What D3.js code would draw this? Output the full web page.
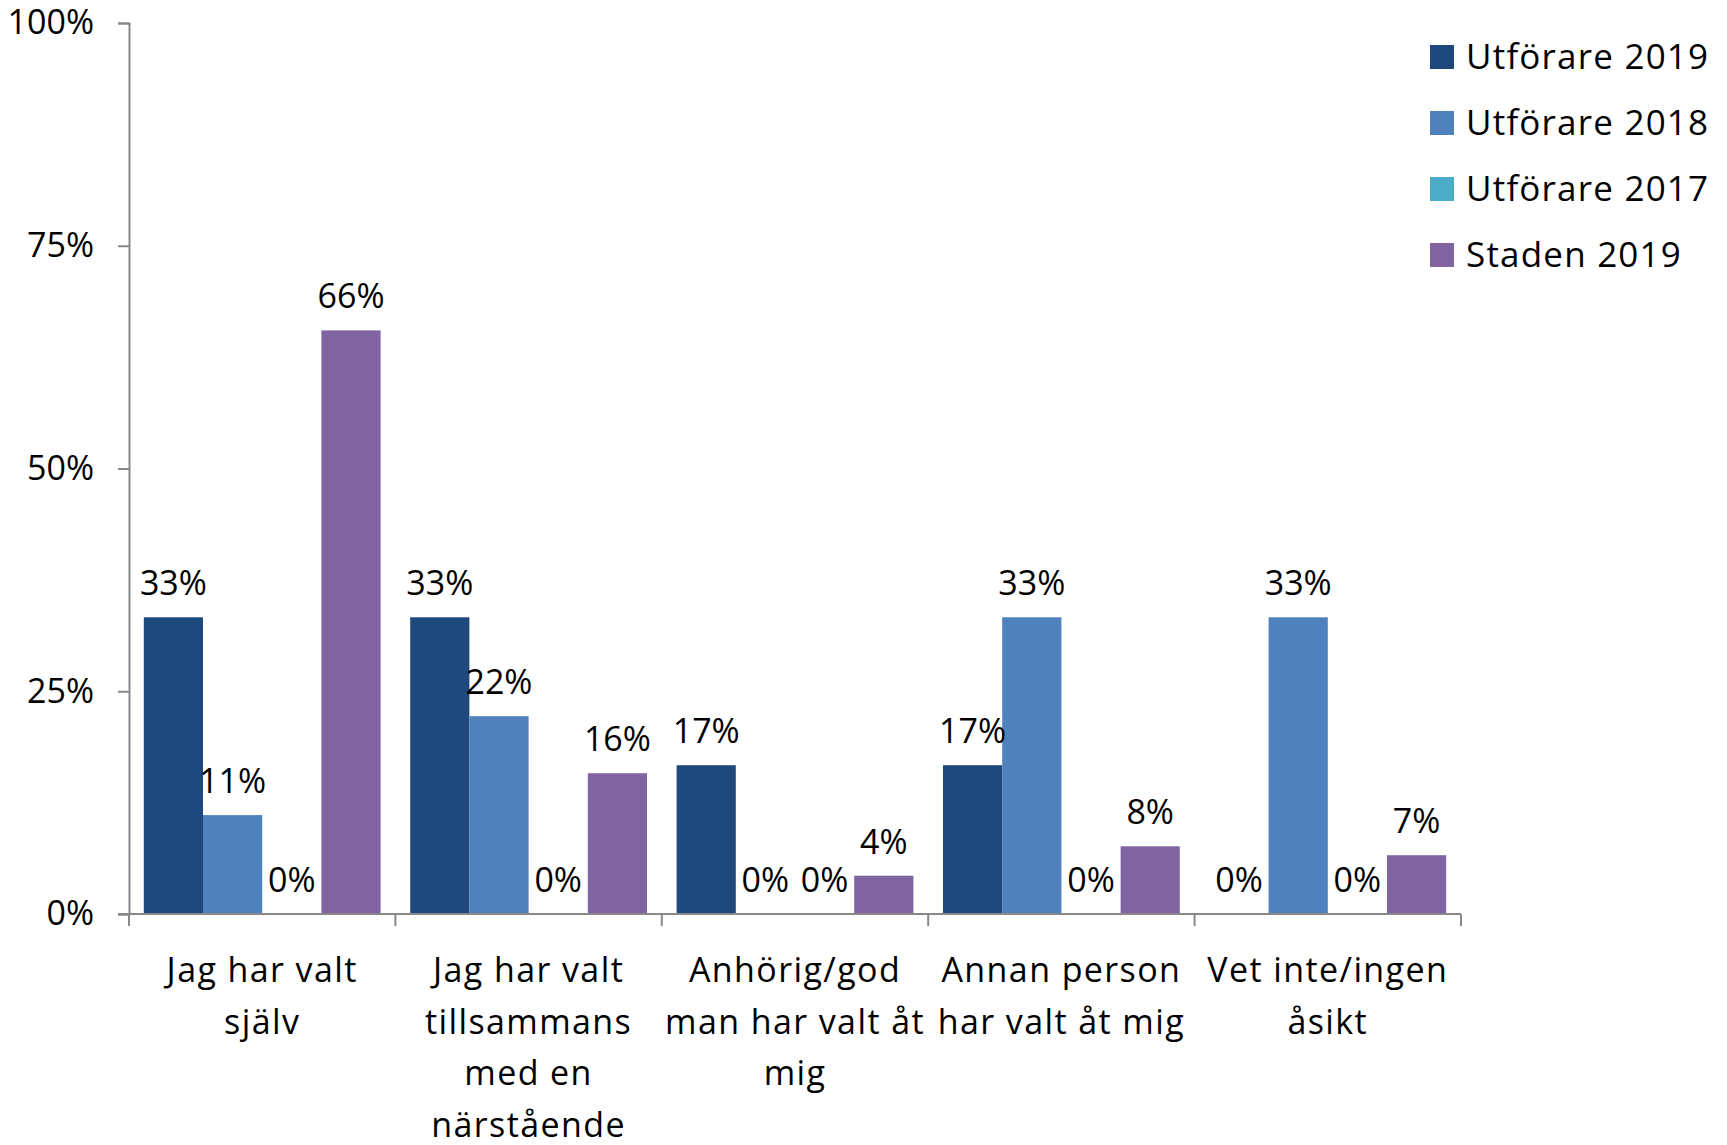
<!DOCTYPE html>
<html>
<head>
<meta charset="utf-8">
<script src="https://cdn.jsdelivr.net/npm/d3@7"></script>
<style>
  body { margin: 0; background: #fff; }
  text { font-family: "Open Sans", "Noto Sans", sans-serif; fill: #000; }
</style>
</head>
<body>
<div id="chart"></div>
<script>
// categories (line breaks as in the original)
var categories = ['Jag har valt själv', 'Jag har valt tillsammans med en närstående',
    'Anhörig/god man har valt åt mig', 'Annan person har valt åt mig', 'Vet inte/ingen åsikt']
var categoryLines = [
    ['Jag har valt', 'själv'],
    ['Jag har valt', 'tillsammans', 'med en', 'närstående'],
    ['Anhörig/god', 'man har valt åt', 'mig'],
    ['Annan person', 'har valt åt mig'],
    ['Vet inte/ingen', 'åsikt']
]
var seriesNames = ['Utförare 2019', 'Utförare 2018', 'Utförare 2017', 'Staden 2019']
var seriesColors = ['#1F497D', '#4F81BD', '#4BACC6', '#8064A2']
// values in percent, one array per series, in category order
var utforare2019 = [33.3, 33.3, 16.7, 16.7, 0]
var utforare2018 = [11.1, 22.2, 0, 33.3, 33.3]
var utforare2017 = [0, 0, 0, 0, 0]
var staden2019 = [65.5, 15.8, 4.3, 7.6, 6.6]
var yTicks = [0, 25, 50, 75, 100]

var seriesValues = [utforare2019, utforare2018, utforare2017, staden2019]

var width = 1727, height = 1145
var margin = { left: 129, right: 266, top: 23, bottom: 231 }

var svg = d3.select('#chart')
    .append('svg')
    .attr('width', width)
    .attr('height', height)

var x0 = d3.scaleBand()
    .domain(categories)
    .range([margin.left, width - margin.right])
    .paddingInner(0)
    .paddingOuter(0)

var x1 = d3.scaleBand()
    .domain(seriesNames)
    .range([0, x0.bandwidth()])
    .paddingInner(0)
    .paddingOuter(0.25)

var y = d3.scaleLinear()
    .domain([0, 100])
    .range([height - margin.bottom, margin.top])

var axisColor = '#888888'
var fontSize = 34

// y axis
var yAxis = svg.append('g')
    .attr('transform', 'translate(' + margin.left + ',0)')
    .call(d3.axisLeft(y).tickValues(yTicks).tickSize(11).tickPadding(24)
        .tickFormat(function(d) { return d + '%' }))
yAxis.select('.domain').attr('stroke', axisColor).attr('stroke-width', 2)
yAxis.selectAll('.tick line').attr('stroke', axisColor).attr('stroke-width', 2)
yAxis.selectAll('.tick text')
    .attr('font-size', fontSize)
    .attr('font-family', '"Open Sans", sans-serif')
    .attr('fill', '#000')

// bars
var groups = svg.append('g').selectAll('g')
    .data(categories)
    .join('g')
    .attr('transform', function(d) { return 'translate(' + x0(d) + ',0)' })

groups.each(function(cat, ci) {
    var g = d3.select(this)
    var rows = seriesNames.map(function(s, si) {
        return { series: s, color: seriesColors[si], value: seriesValues[si][ci] }
    })
    g.selectAll('rect')
        .data(rows)
        .join('rect')
        .attr('x', function(d) { return x1(d.series) })
        .attr('width', x1.bandwidth())
        .attr('y', function(d) { return y(d.value) })
        .attr('height', function(d) { return y(0) - y(d.value) })
        .attr('fill', function(d) { return d.color })
    g.selectAll('text.lbl')
        .data(rows)
        .join('text')
        .attr('class', 'lbl')
        .attr('x', function(d) { return x1(d.series) + x1.bandwidth() / 2 })
        .attr('y', function(d) { return y(d.value) - 22 })
        .attr('text-anchor', 'middle')
        .attr('font-size', fontSize)
        .text(function(d) { return Math.round(d.value) + '%' })
})

// x axis line and category boundary ticks
var xAxis = svg.append('g')
xAxis.append('line')
    .attr('x1', margin.left - 11)
    .attr('x2', x0.range()[1])
    .attr('y1', y(0))
    .attr('y2', y(0))
    .attr('stroke', axisColor)
    .attr('stroke-width', 2)
var bounds = categories.map(function(c) { return x0(c) }).concat([x0.range()[1]])
xAxis.selectAll('line.tick')
    .data(bounds)
    .join('line')
    .attr('class', 'tick')
    .attr('x1', function(d) { return d })
    .attr('x2', function(d) { return d })
    .attr('y1', y(0))
    .attr('y2', y(0) + 12)
    .attr('stroke', axisColor)
    .attr('stroke-width', 2)

// category labels
xAxis.selectAll('text.cat')
    .data(categories)
    .join('text')
    .attr('class', 'cat')
    .attr('text-anchor', 'middle')
    .attr('font-size', fontSize)
    .attr('letter-spacing', 1.4)
    .each(function(c, i) {
        var t = d3.select(this)
        categoryLines[i].forEach(function(line, li) {
            t.append('tspan')
                .attr('x', x0(c) + x0.bandwidth() / 2)
                .attr('y', y(0) + 68 + li * 51.7)
                .text(line)
        })
    })

// legend
var legend = svg.append('g')
    .attr('transform', 'translate(1430,45)')
var items = legend.selectAll('g')
    .data(seriesNames)
    .join('g')
    .attr('transform', function(d, i) { return 'translate(0,' + (i * 66) + ')' })
items.append('rect')
    .attr('width', 24)
    .attr('height', 24)
    .attr('fill', function(d, i) { return seriesColors[i] })
items.append('text')
    .attr('x', 36)
    .attr('y', 24)
    .attr('font-size', fontSize + 1)
    .attr('letter-spacing', 1.2)
    .text(function(d) { return d })
</script>
</body>
</html>
